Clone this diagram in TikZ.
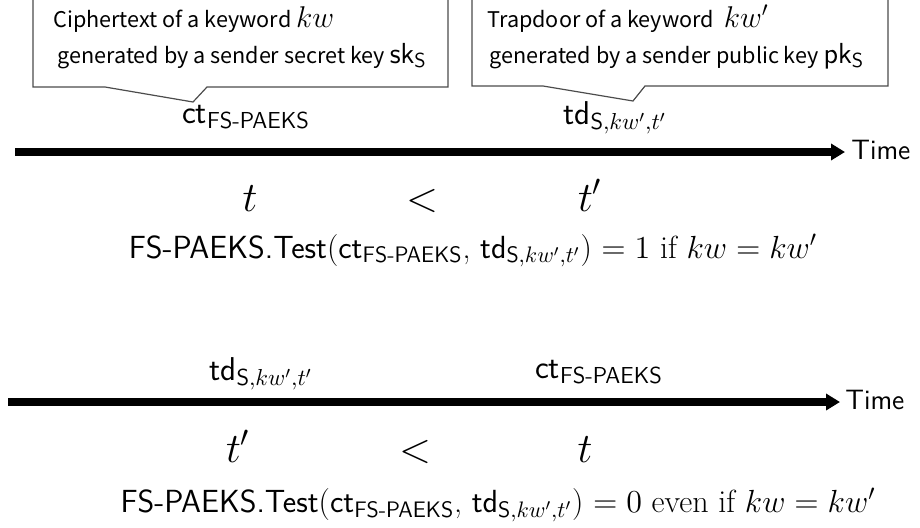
\RequirePackage{fix-cm}
\documentclass[tikz,border=0pt]{standalone}
\usepackage{amsmath}
\usepackage{fontspec}
\newfontfamily\gothic{Noto Sans CJK JP}
\usetikzlibrary{arrows.meta,positioning}

% ciphertext and trapdoor symbols
\newcommand{\ctsym}{\textsf{ct}$_{\textsf{FS-PAEKS}}$}
\newcommand{\tdsym}{\textsf{td}$_{\textsf{S},kw',t'}$}
\newcommand{\keysym}[1]{{\sffamily\fontsize{14.5}{16}\selectfont #1$_{\textsf{S}}$}}

\begin{document}
\begin{tikzpicture}[x=0.5pt,y=0.5pt,
    callout/.style={draw=black!70, line width=0.6pt, fill=white},
    caption/.style={anchor=base west, inner sep=0pt, font=\gothic\fontsize{10.8}{13}\selectfont},
    timeline/.style={line width=4pt, -{Triangle[length=7pt,width=8pt]}},
    timelabel/.style={anchor=base west, inner sep=0pt, font=\sffamily\fontsize{14}{16}\selectfont},
    keylabel/.style={anchor=base, inner sep=0pt, font=\fontsize{16.5}{19}\selectfont},
    instant/.style={anchor=base, inner sep=0pt, font=\fontsize{21}{25}\selectfont},
    result/.style={anchor=base, inner sep=0pt, font=\fontsize{16}{19}\selectfont}]
  \useasboundingbox (0,0) rectangle (920,527);

  % Callouts
  \draw [callout] (33,533) -- (33,440) -- (105,440) -- (193,425) -- (207,440)
    -- (448,440) -- (448,533);
  \draw [callout] (472,533) -- (472,441) -- (543,441) -- (633,426) -- (645,441)
    -- (888,441) -- (888,533);
  \node [caption] (ctcap1) at (53,500) {Ciphertext of a keyword {\fontsize{15}{17}\selectfont$kw$}};
  \node [caption] (ctcap2) at (57,464) {generated by a sender secret key \keysym{sk}};
  \node [caption] (tdcap1) at (487,500) {Trapdoor of a keyword {\fontsize{15}{17}\selectfont\,$kw'$}};
  \node [caption] (tdcap2) at (489,464) {generated by a sender public key \keysym{pk}};

  % Upper timeline: t < t'
  \node [keylabel] (ctA) at (246,404) {\ctsym};
  \node [keylabel] (tdA) at (615,403) {\tdsym};
  \coordinate (startA) at (15,375);
  \coordinate (endA) at (845,375);
  \draw [timeline] (startA) -- (endA);
  \node [timelabel] (timeA) at (851,368) {Time};
  \node [instant] (tA) at (250,316) {$t$};
  \node [instant] (ltA) at (422,316) {$<$};
  \node [instant] (tpA) at (590,316) {$t'$};
  \node [result] (testA) at (473,269)
    {\textsf{FS-PAEKS.Test}(\ctsym, \tdsym) $= 1$ if $kw = kw'$};

  % Lower timeline: t' < t
  \node [keylabel] (tdB) at (261,147) {\tdsym};
  \node [keylabel] (ctB) at (599,149) {\ctsym};
  \coordinate (startB) at (8,125);
  \coordinate (endB) at (840,125);
  \draw [timeline] (startB) -- (endB);
  \node [timelabel] (timeB) at (845,118) {Time};
  \node [instant] (tpB) at (238,65) {$t'$};
  \node [instant] (ltB) at (415,65) {$<$};
  \node [instant] (tB) at (585,65) {$t$};
  \node [result] (testB) at (498,15)
    {\textsf{FS-PAEKS.Test}(\ctsym, \tdsym) $= 0$ even if $kw = kw'$};
\end{tikzpicture}
\end{document}
